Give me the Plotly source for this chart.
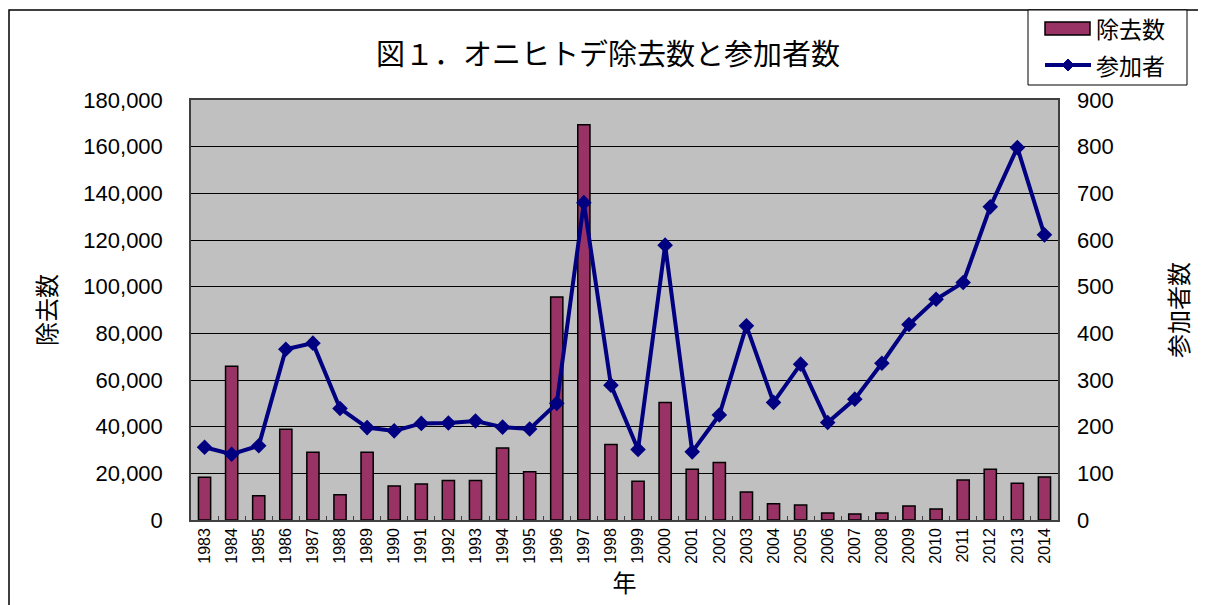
import plotly.graph_objects as go

# data
years = [str(y) for y in range(1983, 2015)]
removed = [18300, 65900, 10400, 38900, 29000, 10800, 29000, 14600, 15400, 16900,
           16900, 30900, 20700, 95600, 169400, 32400, 16600, 50400, 21700, 24600,
           12000, 7000, 6400, 3000, 2600, 3000, 6000, 4700, 17100, 21800,
           15800, 18400]
participants = [156, 141, 159, 366, 379, 239, 198, 191, 207, 208,
                212, 199, 195, 250, 680, 289, 151, 589, 146, 225,
                416, 252, 334, 209, 259, 336, 419, 473, 509, 671,
                798, 611]

left_ticks = list(range(0, 180001, 20000))
right_ticks = list(range(0, 901, 100))

BAR_NAME, LINE_NAME = "除去数", "参加者"
BAR_COLOR, LINE_COLOR = "#993366", "#000080"

FONT = "Noto Sans CJK JP, Liberation Sans, sans-serif"
NUM_FONT = "Liberation Sans, Arial, sans-serif"

# page body adds an 8px margin, so lay out in shifted pixel coords
OFF = 8
W, H = 1206 - OFF, 605 - OFF
L, R, T, B = 191 - OFF, 1058 - OFF, 100 - OFF, 520 - OFF
pw, ph = R - L, B - T


def px(x):
    return (x - OFF - L) / pw


def py(y):
    return (B - (y - OFF)) / ph


fig = go.Figure()

fig.add_trace(go.Bar(
    x=years, y=removed, name=BAR_NAME,
    marker=dict(color=BAR_COLOR, line=dict(color="black", width=1.5)),
    width=0.45,
))

fig.add_trace(go.Scatter(
    x=years, y=participants, name=LINE_NAME, yaxis="y2",
    mode="lines+markers",
    line=dict(color=LINE_COLOR, width=4),
    marker=dict(symbol="diamond", size=12, color=LINE_COLOR),
))

# hand-drawn legend box, Excel style
dx, dy = 6 / pw, 6 / ph
mx, my = px(1068), py(65)
legend_shapes = [
    dict(type="rect", xref="paper", yref="paper",
         x0=px(1028), x1=px(1187), y0=py(85), y1=py(10),
         fillcolor="white", line=dict(color="black", width=1)),
    dict(type="rect", xref="paper", yref="paper",
         x0=px(1045), x1=px(1090), y0=py(35), y1=py(22),
         fillcolor=BAR_COLOR, line=dict(color="black", width=1.5)),
    dict(type="line", xref="paper", yref="paper",
         x0=px(1045), x1=px(1091), y0=my, y1=my,
         line=dict(color=LINE_COLOR, width=4)),
    dict(type="path", xref="paper", yref="paper",
         path=f"M {mx - dx},{my} L {mx},{my + dy} L {mx + dx},{my} L {mx},{my - dy} Z",
         fillcolor=LINE_COLOR, line=dict(color=LINE_COLOR, width=1)),
]
legend_notes = [
    dict(text=BAR_NAME, xref="paper", yref="paper", x=px(1094), y=py(28),
         xanchor="left", yanchor="middle", showarrow=False, font=dict(size=23)),
    dict(text=LINE_NAME, xref="paper", yref="paper", x=px(1094), y=py(65),
         xanchor="left", yanchor="middle", showarrow=False, font=dict(size=23)),
]

fig.update_layout(
    width=W, height=H,
    margin=dict(l=L, r=W - R, t=T, b=H - B, autoexpand=False),
    paper_bgcolor="white",
    plot_bgcolor="#C0C0C0",
    font=dict(family=FONT, color="black", size=17),
    title=dict(text="図１．オニヒトデ除去数と参加者数", x=(608 - OFF) / W, xanchor="center",
               y=1 - (55 - OFF) / H, yanchor="middle",
               font=dict(size=29, family=FONT)),
    showlegend=False,
    xaxis=dict(
        type="category", range=[-0.5, len(years) - 0.5],
        tickangle=-90, tickfont=dict(size=16, family=NUM_FONT),
        showline=True, linecolor="#404040", linewidth=1.5, mirror=True,
        ticks="inside", tickson="boundaries", ticklen=4, tickcolor="#404040",
        title=dict(text="年", font=dict(size=24), standoff=2),
        showgrid=False,
    ),
    yaxis=dict(
        range=[0, 180000], tickvals=left_ticks, tickformat=",",
        tickfont=dict(size=22, family=NUM_FONT),
        showgrid=True, gridcolor="black", gridwidth=1,
        showline=True, linecolor="#404040", linewidth=1.5, mirror=True,
        zeroline=False, ticks="", ticklabelstandoff=22,
        title=dict(text="除去数", font=dict(size=24), standoff=20),
    ),
    yaxis2=dict(
        range=[0, 900], tickvals=right_ticks, overlaying="y", side="right",
        tickfont=dict(size=22, family=NUM_FONT),
        showgrid=False, zeroline=False, ticks="", ticklabelstandoff=18,
        title=dict(text="参加者数", font=dict(size=24), standoff=58),
    ),
    shapes=[dict(type="rect", xref="paper", yref="paper",
                 x0=px(9), x1=px(1225), y0=py(625), y1=py(10),
                 line=dict(color="black", width=1.5), layer="below")] + legend_shapes,
    annotations=legend_notes,
)

fig.write_html("out.html")
